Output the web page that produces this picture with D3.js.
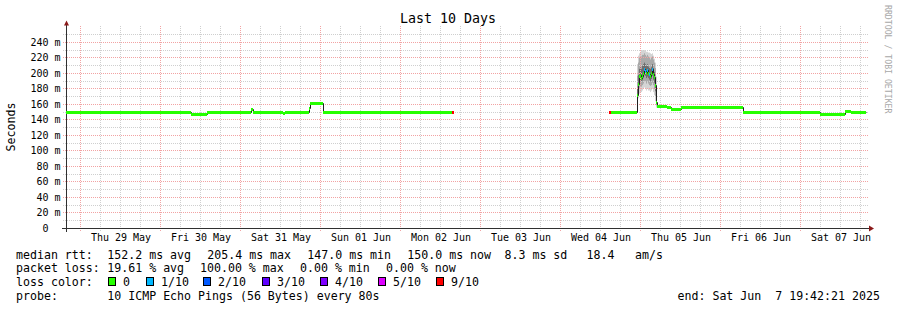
<!DOCTYPE html>
<html><head><meta charset="utf-8">
<script src="https://cdn.jsdelivr.net/npm/d3@7"></script>
<style>
body{margin:0;background:#fff}
text{font-family:"DejaVu Sans Mono",monospace;white-space:pre;fill:#000}
</style>
</head><body><svg id="c" width="897" height="310"></svg>
<script>
// ---------- data ----------
const titleText = "Last 10 Days";
const endTime = "2025-06-07 19:42:21";
const sampleTimes = [
  "2025-05-28 19:42","2025-05-30 09:18","2025-05-30 14:06","2025-05-31 03:18","2025-05-31 03:54",
  "2025-05-31 12:54","2025-05-31 13:30","2025-05-31 20:42","2025-05-31 21:00","2025-06-01 00:54",
  "2025-06-02 15:36","2025-06-02 16:12","2025-06-04 14:42","2025-06-04 15:18",
  "2025-06-04 23:06","2025-06-04 23:24","2025-06-04 23:42","2025-06-05 00:00","2025-06-05 00:18",
  "2025-06-05 00:36","2025-06-05 00:54","2025-06-05 01:12","2025-06-05 01:30","2025-06-05 01:48",
  "2025-06-05 02:06","2025-06-05 02:24","2025-06-05 02:42","2025-06-05 03:00","2025-06-05 03:18",
  "2025-06-05 03:36","2025-06-05 03:54","2025-06-05 04:12","2025-06-05 04:30","2025-06-05 04:48",
  "2025-06-05 05:06","2025-06-05 06:36","2025-06-05 08:06","2025-06-05 09:18","2025-06-05 12:18",
  "2025-06-06 06:54","2025-06-07 06:00","2025-06-07 13:30","2025-06-07 15:18"
];
const medianMs = [
  150,147,150,153,150, 148.5,150,155,161,150, 150,null,150,150,
  172,186,196,198,193, 196,200,205.4,203,200, 203.6,200,198.5,196,200,
  204.5,199,195,185,163, 158,157,155.5,154,156, 150,147,151,150
];
const lossOf10 = [
  0,0,0,0,0, 0,0,0,0,0, 9,10,9,0,
  0,0,0,0,0, 0,0,1,1,0, 1,0,1,0,0,
  1,0,0,0,0, 0,0,0,0,0, 0,0,0,0
];
const N = null;
const smokeMin = [N,N,N,N,N,N,N,N,N,N,N,N,N,N,
  160,168,174,176,176,178,180,182,181,178,180,178,178,176,178,180,176,172,164,156, N,N,N,N,N,N,N,N,N];
const smokeP2 = [N,N,N,N,N,N,N,N,N,N,N,N,N,N,
  166,175,181,183,183,185,187,190,189,187,189,187,185,184,185,188,185,180,170,159, N,N,N,N,N,N,N,N,N];
const smokeP4 = [N,N,N,N,N,N,N,N,N,N,N,N,N,N,
  169,181,189,191,189,191,194,198,197,194,196,194,192,190,193,197,192,188,177,161, N,N,N,N,N,N,N,N,N];
const smokeP7 = [N,N,N,N,N,N,N,N,N,N,N,N,N,N,
  180,198,206,208,206,210,212,214,212,210,212,209,207,206,208,212,207,202,194,172, N,N,N,N,N,N,N,N,N];
const smokeP9 = [N,N,N,N,N,N,N,N,N,N,N,N,N,N,
  197,214,220,222,222,224,224,226,224,222,224,222,220,218,220,222,218,214,207,184, N,N,N,N,N,N,N,N,N];
const smokeMax = [N,N,N,N,N,N,N,N,N,N,N,N,N,N,
  212,223,226,228,229,230,229,230,229,228,228,227,227,226,225,226,223,219,214,196, N,N,N,N,N,N,N,N,N];

const yTickValues = [0,20,40,60,80,100,120,140,160,180,200,220,240];
const yTickLabels = ["0  ","20 m","40 m","60 m","80 m","100 m","120 m","140 m","160 m","180 m","200 m","220 m","240 m"];
const xTickLabels = ["Thu 29 May","Fri 30 May","Sat 31 May","Sun 01 Jun","Mon 02 Jun","Tue 03 Jun","Wed 04 Jun","Thu 05 Jun","Fri 06 Jun","Sat 07 Jun"];

const lossColors = ["#26ff00","#00b8ff","#0059ff","#5e00ff","#7e00ff","#dd00ff","#ff0000"];
const lossLabels = ["0","1/10","2/10","3/10","4/10","5/10","9/10"];

const statLines = [
  ["median rtt:", "152.2 ms avg", "205.4 ms max", "147.0 ms min", "150.0 ms now", "8.3 ms sd", "18.4", "am/s"],
  ["packet loss:", "19.61 % avg", "100.00 % max", "0.00 % min", "0.00 % now"]
];
const probeText = "10 ICMP Echo Pings (56 Bytes) every 80s";
const endText = "end: Sat Jun  7 19:42:21 2025";

// ---------- drawing ----------
const svg = d3.select("#c");
const pT = d3.timeParse("%Y-%m-%d %H:%M");
const pE = d3.timeParse("%Y-%m-%d %H:%M:%S");
const endT = pE(endTime);
const startT = d3.timeDay.offset(endT, -10);
const times = sampleTimes.map(pT);

const x = d3.scaleTime().domain([startT, endT]).range([65.7, 865.7]);
const y = d3.scaleLinear().domain([0, 258]).range([228.5, 28.5]);

svg.append("rect").attr("width",897).attr("height",310).attr("fill","#fff");

const nextT = i => i + 1 < times.length ? times[i+1] : endT;
const lossIdx = l => l >= 9 ? 6 : (l >= 5 ? 5 : l);

// smoke
const bands = [[smokeMin, smokeMax, "#d4d4d4"], [smokeP2, smokeP9, "#a9a9a9"], [smokeP4, smokeP7, "#6e6e6e"]];
const gSmoke = svg.append("g");
bands.forEach(([lo, hi, col]) => {
  times.forEach((t, i) => {
    if (lo[i] == null) return;
    const x0 = Math.round(x(t)), x1 = Math.round(x(nextT(i)));
    gSmoke.append("rect").attr("x", x0).attr("width", x1 - x0)
      .attr("y", y(hi[i])).attr("height", y(lo[i]) - y(hi[i])).attr("fill", col);
  });
});

// grid
const gGrid = svg.append("g").attr("fill","none").attr("stroke-width",1).attr("stroke-dasharray","1,1");
const minorColor = "#cfcfcf", majorColor = "#f2a3a3";
for (let v = 10; v <= 250; v += 20) {
  const yy = Math.floor(y(v)) + 0.5;
  gGrid.append("line").attr("x1",63).attr("x2",868).attr("y1",yy).attr("y2",yy).attr("stroke",minorColor);
}
yTickValues.forEach(v => {
  if (v === 0) return;
  const yy = Math.floor(y(v)) + 0.5;
  gGrid.append("line").attr("x1",63).attr("x2",868).attr("y1",yy).attr("y2",yy).attr("stroke",majorColor);
});
const sixH = d3.timeHour.every(6).range(startT, endT);
sixH.forEach(t => {
  const xx = Math.floor(x(t)) + 0.5;
  if (xx < 68) return;
  const major = t.getHours() === 0;
  gGrid.append("line").attr("x1",xx).attr("x2",xx).attr("y1",26).attr("y2",231)
    .attr("stroke", major ? majorColor : minorColor);
});

// axes
const axisColor = "#303030", arrowColor = "#8b1a1a";
svg.append("line").attr("x1",62).attr("x2",869).attr("y1",228.5).attr("y2",228.5).attr("stroke",axisColor);
svg.append("line").attr("x1",66.5).attr("x2",66.5).attr("y1",25).attr("y2",232).attr("stroke",axisColor);
svg.append("path").attr("d","M64,25.5L66.5,20.5L69,25.5Z").attr("fill",arrowColor);
svg.append("path").attr("d","M869,225.5L874,228.5L869,231.5Z").attr("fill",arrowColor);

// median dark line
const pts = times.map((t,i) => ({t, v: medianMs[i]}));
pts.push({t: endT, v: medianMs[medianMs.length-1]});
const line = d3.line().defined(d => d.v != null).x(d => Math.round(x(d.t)) + 0.5).y(d => Math.floor(y(d.v)) + 0.5).curve(d3.curveStepAfter);
svg.append("path").attr("d", line(pts)).attr("fill","none").attr("stroke","#202020").attr("stroke-width",1);

// loss-colored median band
times.forEach((t, i) => {
  const v = medianMs[i];
  if (v == null) return;
  const x0 = Math.round(x(t)), x1 = Math.round(x(nextT(i)));
  svg.append("rect").attr("x", x0).attr("width", Math.max(1, x1 - x0))
    .attr("y", Math.floor(y(v)) - 1).attr("height", 3)
    .attr("fill", lossColors[lossIdx(lossOf10[i])]);
});

// y labels
yTickValues.forEach((v, i) => {
  svg.append("text").attr("x", 60.5).attr("y", Math.floor(y(v)) + 4)
    .attr("text-anchor","end").attr("font-size","10px").text(yTickLabels[i]);
});
// x labels at noon
const firstMid = d3.timeDay.ceil(startT);
xTickLabels.forEach((lab, i) => {
  const noon = d3.timeHour.offset(d3.timeDay.offset(firstMid, i), 12);
  svg.append("text").attr("x", x(noon) + 1).attr("y", 241)
    .attr("text-anchor","middle").attr("font-size","10px").text(lab);
});

// title
svg.append("text").attr("x", 448).attr("y", 23).attr("text-anchor","middle").attr("font-size","13.3px").text(titleText);
// y title
svg.append("text").attr("transform","translate(15,127) rotate(-90)").attr("text-anchor","middle").attr("font-size","11.6px").text("Seconds");
// watermark
svg.append("text").attr("transform","translate(884.5,5) rotate(90)").attr("font-size","8.2px").style("fill","#a8a8a8").text("RRDTOOL / TOBI OETIKER");

// legend
const fs = "11.6px";
const lineY = [258.5, 272.3, 286.1, 300];
const col1X = [16, 107.3, 207.3, 307.3, 407.3, 504.5, 586.5, 635];
statLines[0].forEach((s, i) => svg.append("text").attr("x", col1X[i]).attr("y", lineY[0]).attr("font-size", fs).text(s));
const col2X = [16, 107.3, 200, 300, 386];
statLines[1].forEach((s, i) => svg.append("text").attr("x", col2X[i]).attr("y", lineY[1]).attr("font-size", fs).text(s));
svg.append("text").attr("x",16).attr("y",lineY[2]).attr("font-size",fs).text("loss color:");
const boxX = [108.5, 146.5, 203.5, 262.5, 320.5, 378.5, 436.5];
lossLabels.forEach((lab, i) => {
  svg.append("rect").attr("x", boxX[i]).attr("y", 277.5).attr("width", 7).attr("height", 8)
    .attr("fill", lossColors[i]).attr("stroke","#000").attr("stroke-width",1);
  svg.append("text").attr("x", boxX[i] + 14.5).attr("y", lineY[2]).attr("font-size", fs).text(lab);
});
svg.append("text").attr("x",16).attr("y",lineY[3]).attr("font-size",fs).text("probe:");
svg.append("text").attr("x",107.3).attr("y",lineY[3]).attr("font-size",fs).text(probeText);
svg.append("text").attr("x",677.5).attr("y",lineY[3]).attr("font-size",fs).text(endText);
</script>
</body></html>
